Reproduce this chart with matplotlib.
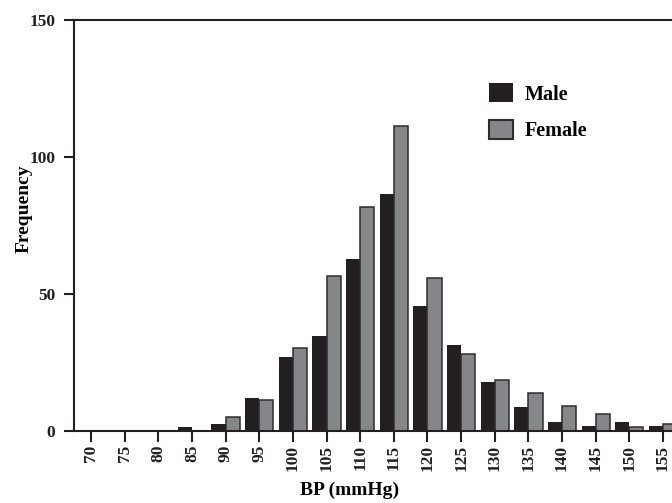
import matplotlib
matplotlib.use("Agg")
import matplotlib.pyplot as plt
from matplotlib.patches import Patch

# BP bins (mmHg) and counts
bp_bins = [70, 75, 80, 85, 90, 95, 100, 105, 110, 115, 120, 125, 130, 135, 140, 145, 150, 155]
male_freq = [0, 0, 0, 1.6, 2.4, 12.2, 26.9, 34.8, 62.8, 86.4, 45.5, 31.4, 17.9, 8.8, 3.4, 1.7, 3.3, 1.7]
female_freq = [0, 0, 0, 0, 5.1, 11.3, 30.4, 56.7, 81.8, 111.4, 56.0, 28.2, 18.5, 13.8, 9.2, 6.2, 1.6, 2.4]
y_ticks = [0, 50, 100, 150]

MALE_COLOR = "#231f20"
FEMALE_COLOR = "#85868a"
EDGE_COLOR = "#2e2c2d"

plt.rcParams["font.family"] = ["Liberation Serif", "DejaVu Serif"]
plt.rcParams["font.weight"] = "bold"


def main():
    fig = plt.figure(figsize=(6.72, 5.03), dpi=100)
    ax = fig.add_axes([74 / 672, 1 - 431 / 503, 1 - 74 / 672, (431 - 20) / 503])

    bw = 2.1
    ax.bar(bp_bins, male_freq, width=-bw, align="edge", color=MALE_COLOR,
           edgecolor="none", zorder=2)
    ax.bar(bp_bins, female_freq, width=bw, align="edge", color=FEMALE_COLOR,
           edgecolor=EDGE_COLOR, linewidth=1.1, zorder=2)

    ax.set_xlim(67.47, 156.34)
    ax.set_ylim(0, 150)
    ax.set_xticks(bp_bins)
    ax.set_xticklabels([str(b) for b in bp_bins], rotation=90, fontsize=12.5,
                       fontweight="bold")
    ax.set_yticks(y_ticks)
    ax.set_yticklabels([str(t) for t in y_ticks], fontsize=12.5, fontweight="bold")

    for side in ("left", "bottom", "top"):
        ax.spines[side].set_linewidth(1.5)
        ax.spines[side].set_color("#231f20")
    ax.spines["right"].set_visible(False)
    ax.tick_params(axis="x", direction="out", length=8, width=1.5, pad=2,
                   colors="#231f20")
    ax.tick_params(axis="y", direction="out", length=7.5, width=1.5, pad=6,
                   colors="#231f20")

    ax.set_xlabel("BP (mmHg)", fontsize=14, fontweight="bold")
    ax.xaxis.set_label_coords((350 - 74) / 598, -51 / 411)
    ax.set_ylabel("Frequency", fontsize=14, fontweight="bold")
    ax.yaxis.set_label_coords(-41 / 598, (431 - 209) / 411)

    handles = [
        Patch(facecolor=MALE_COLOR, edgecolor="none", label="Male"),
        Patch(facecolor=FEMALE_COLOR, edgecolor=EDGE_COLOR, linewidth=1.5, label="Female"),
    ]
    fig.legend(handles=handles, loc="upper left",
               bbox_to_anchor=(489 / 672, 1 - 83 / 503), frameon=False,
               borderpad=0, borderaxespad=0, handlelength=1.2, handleheight=1.1,
               handletextpad=0.55, labelspacing=0.75,
               prop={"size": 14.5, "weight": "bold"})

    fig.savefig("out.png", dpi=100)


if __name__ == "__main__":
    main()
